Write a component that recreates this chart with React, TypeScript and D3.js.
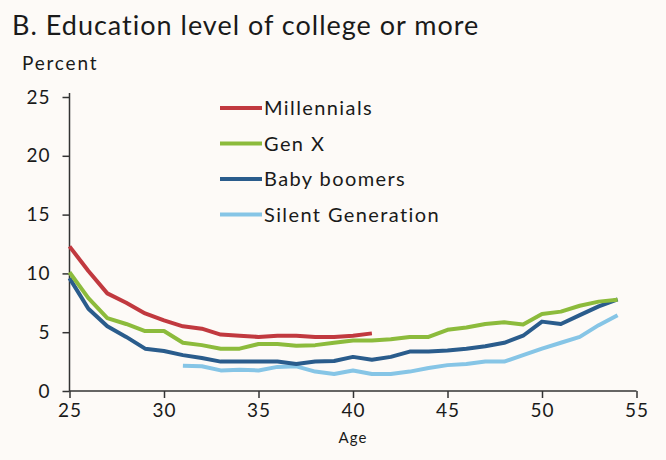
import React, { useEffect, useRef } from 'react';
import * as d3 from 'd3';

const title = 'B. Education level of college or more';
const yLabel = 'Percent';
const xLabel = 'Age';
const yTicks = [0, 5, 10, 15, 20, 25];
const xTicks = [25, 30, 35, 40, 45, 50, 55];

const millennialsAges = d3.range(25, 42);
const millennials = [12.3, 10.2, 8.3, 7.5, 6.6, 6.0, 5.5, 5.3, 4.8, 4.7, 4.6, 4.7, 4.7, 4.6, 4.6, 4.7, 4.9];

const genXAges = d3.range(25, 55);
const genX = [10.1, 7.9, 6.2, 5.7, 5.1, 5.1, 4.1, 3.9, 3.6, 3.6, 4.0, 4.0, 3.85, 3.9, 4.1, 4.3, 4.3, 4.4, 4.6, 4.6, 5.2, 5.4, 5.7, 5.85, 5.65, 6.55, 6.75, 7.25, 7.6, 7.75];

const boomersAges = d3.range(25, 55);
const boomers = [9.6, 7.0, 5.5, 4.6, 3.6, 3.4, 3.05, 2.8, 2.5, 2.5, 2.5, 2.5, 2.3, 2.5, 2.55, 2.9, 2.65, 2.9, 3.35, 3.35, 3.45, 3.6, 3.8, 4.1, 4.7, 5.9, 5.7, 6.45, 7.2, 7.8];

const silentAges = d3.range(31, 55);
const silent = [2.15, 2.1, 1.75, 1.8, 1.75, 2.05, 2.1, 1.65, 1.45, 1.75, 1.45, 1.45, 1.65, 1.95, 2.2, 2.3, 2.5, 2.5, 3.05, 3.6, 4.1, 4.6, 5.6, 6.45];

const seriesNames = ['Millennials', 'Gen X', 'Baby boomers', 'Silent Generation'];
const seriesColors = ['#c1393f', '#8cbb3c', '#2a5c8c', '#86c5e6'];

const App: React.FC = () => {
  const svgRef = useRef<SVGSVGElement>(null);

  useEffect(() => {
    if (!svgRef.current) return;
    const svg = d3.select(svgRef.current);
    svg.selectAll('*').remove();

    const width = 666;
    const height = 460;
    const font = 'Lato, "DejaVu Sans", sans-serif';

    svg.append('rect')
      .attr('width', width)
      .attr('height', height)
      .attr('fill', '#fdfaf7');

    const x = d3.scaleLinear().domain([25, 55]).range([69.5, 636.5]);
    const y = d3.scaleLinear().domain([0, 25]).range([391, 97]);

    // Title
    svg.append('text')
      .attr('x', 12)
      .attr('y', 35)
      .style('font-family', font)
      .style('font-size', '27px')
      .style('letter-spacing', '1px')
      .style('fill', '#1a1a1a')
      .text(title);

    svg.append('text')
      .attr('x', 22)
      .attr('y', 70)
      .style('font-family', font)
      .style('font-size', '19px')
      .style('letter-spacing', '1.8px')
      .style('fill', '#1a1a1a')
      .text(yLabel);

    // Y axis
    const yAxis = svg.append('g')
      .attr('transform', `translate(${x(25)},0)`)
      .call(d3.axisLeft(y).tickValues(yTicks).tickSize(7).tickPadding(12).tickFormat(d3.format('d')));
    yAxis.select('.domain').attr('d', `M-0,${y(25) - 4}V${y(0)}`);

    // X axis
    const xAxis = svg.append('g')
      .attr('transform', `translate(0,${y(0)})`)
      .call(d3.axisBottom(x).tickValues(xTicks).tickSize(7).tickPadding(6).tickFormat(d3.format('d')));
    xAxis.select('.domain').attr('d', `M${x(25)},0H${x(55)}`);

    svg.selectAll('.tick text')
      .style('font-family', font)
      .style('font-size', '19px')
      .style('letter-spacing', '1px')
      .style('fill', '#1a1a1a');
    svg.selectAll('.domain, .tick line')
      .attr('stroke', '#333')
      .attr('stroke-width', 1.5);

    svg.append('text')
      .attr('x', x(40))
      .attr('y', 443)
      .attr('text-anchor', 'middle')
      .style('font-family', font)
      .style('font-size', '15px')
      .style('letter-spacing', '1px')
      .style('fill', '#1a1a1a')
      .text(xLabel);

    const line = d3.line<[number, number]>()
      .x(d => x(d[0]))
      .y(d => y(d[1]));

    const series = [
      { ages: silentAges, values: silent, color: seriesColors[3] },
      { ages: boomersAges, values: boomers, color: seriesColors[2] },
      { ages: genXAges, values: genX, color: seriesColors[1] },
      { ages: millennialsAges, values: millennials, color: seriesColors[0] },
    ];

    series.forEach(s => {
      svg.append('path')
        .datum(s.ages.map((a, i) => [a, s.values[i]] as [number, number]))
        .attr('d', line)
        .attr('fill', 'none')
        .attr('stroke', s.color)
        .attr('stroke-width', 4)
        .attr('stroke-linejoin', 'round');
    });

    // Legend
    const legend = svg.append('g').attr('transform', 'translate(220,108)');
    seriesNames.forEach((name, i) => {
      const g = legend.append('g').attr('transform', `translate(0,${i * 35.5})`);
      g.append('line')
        .attr('x1', 0).attr('x2', 42)
        .attr('stroke', seriesColors[i])
        .attr('stroke-width', 4);
      g.append('text')
        .attr('x', 44)
        .attr('dy', '0.35em')
        .style('font-family', font)
        .style('font-size', '20px')
        .style('letter-spacing', '1.4px')
        .style('fill', '#1a1a1a')
        .text(name);
    });
  }, []);

  return (
    <svg
      ref={svgRef}
      width={666}
      height={460}
      style={{ position: 'absolute', left: 0, top: 0 }}
    />
  );
};

export default App;
